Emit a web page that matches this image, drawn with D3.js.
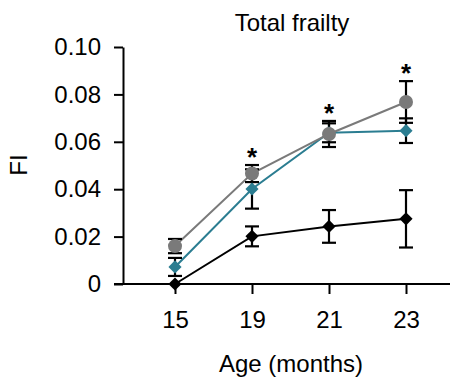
<!DOCTYPE html>
<html>
<head>
<meta charset="utf-8">
<script src="https://cdn.jsdelivr.net/npm/d3@7"></script>
<style>
  html, body { margin: 0; padding: 0; background: #fff; }
  svg { display: block; }
  text { font-family: "Liberation Sans", Arial, Helvetica, sans-serif; fill: #000; }
</style>
</head>
<body>
<svg id="chart" width="452" height="379"></svg>
<script>
// Age groups (months)
const ages = ["15", "19", "21", "23"];

// Frailty index, mean and SEM per group
const blackMean = [0, 0.0201, 0.0243, 0.0275];
const blackSem  = [0, 0.0042, 0.0069, 0.0121];

const tealMean  = [0.0072, 0.0401, 0.0638, 0.0647];
const tealSem   = [0.0038, 0.0083, 0.0040, 0.0052];

const grayMean  = [0.0160, 0.0466, 0.0633, 0.0768];
const graySem   = [0.0030, 0.0036, 0.0055, 0.0088];

// Ages marked as significant
const starred = ["19", "21", "23"];

const yTicks = [0, 0.02, 0.04, 0.06, 0.08, 0.10];
const yTickLabels = ["0", "0.02", "0.04", "0.06", "0.08", "0.10"];

const svg = d3.select("#chart");

const x = d3.scalePoint().domain(ages).range([175, 406]);
const y = d3.scaleLinear().domain([0, 0.10]).range([284, 47]);

const fontSize = 24;

// Title
svg.append("text")
  .attr("x", 292).attr("y", 31)
  .attr("text-anchor", "middle")
  .style("font-size", fontSize + "px")
  .text("Total frailty");

// Y axis
const yAxis = svg.append("g")
  .attr("transform", "translate(123,0)")
  .call(d3.axisLeft(y)
    .tickValues(yTicks)
    .tickFormat((d, i) => yTickLabels[i])
    .tickSize(9)
    .tickSizeOuter(0)
    .tickPadding(13));
yAxis.select(".domain").attr("stroke", "#000").attr("stroke-width", 2);
yAxis.selectAll(".tick line").attr("stroke", "#000").attr("stroke-width", 2);
yAxis.selectAll(".tick text")
  .style("font-size", fontSize + "px")
  .style("font-family", "'Liberation Sans', Arial, sans-serif")
  .attr("fill", "#000");

// X axis
const xAxis = svg.append("g")
  .attr("transform", "translate(0,284)")
  .call(d3.axisBottom(x)
    .tickSize(10)
    .tickSizeOuter(0)
    .tickPadding(17));
xAxis.select(".domain").remove();
xAxis.append("line")
  .attr("x1", 114).attr("x2", 450)
  .attr("y1", 0).attr("y2", 0)
  .attr("stroke", "#000").attr("stroke-width", 2);
xAxis.selectAll(".tick line").attr("stroke", "#000").attr("stroke-width", 2);
xAxis.selectAll(".tick text")
  .style("font-size", fontSize + "px")
  .style("font-family", "'Liberation Sans', Arial, sans-serif")
  .attr("fill", "#000");

// Axis titles
svg.append("text")
  .attr("x", 291).attr("y", 372)
  .attr("text-anchor", "middle")
  .style("font-size", fontSize + "px")
  .text("Age (months)");

svg.append("text")
  .attr("transform", "translate(27,165) rotate(-90)")
  .attr("text-anchor", "middle")
  .style("font-size", fontSize + "px")
  .text("FI");

// Series
const series = [
  { mean: blackMean, sem: blackSem, color: "#000000", marker: "diamond" },
  { mean: tealMean,  sem: tealSem,  color: "#2b7d91", marker: "diamond" },
  { mean: grayMean,  sem: graySem,  color: "#7a7a7a", marker: "circle" }
];

const line = d3.line()
  .x((d, i) => x(ages[i]))
  .y(d => y(d));

const plot = svg.append("g");

series.forEach(s => {
  plot.append("path")
    .datum(s.mean)
    .attr("fill", "none")
    .attr("stroke", s.color)
    .attr("stroke-width", 2)
    .attr("d", line);
});

// Error bars (black whiskers with caps)
const capHalf = 7;
series.forEach(s => {
  const g = plot.append("g");
  s.mean.forEach((m, i) => {
    if (s.sem[i] <= 0) return;
    const cx = x(ages[i]);
    const top = y(m + s.sem[i]);
    const bot = y(m - s.sem[i]);
    g.append("line")
      .attr("x1", cx).attr("x2", cx)
      .attr("y1", top).attr("y2", bot)
      .attr("stroke", "#000").attr("stroke-width", 2.2);
    [top, bot].forEach(yy => {
      g.append("line")
        .attr("x1", cx - capHalf).attr("x2", cx + capHalf)
        .attr("y1", yy).attr("y2", yy)
        .attr("stroke", "#000").attr("stroke-width", 2.2);
    });
  });
});

// Markers
const diamond = d3.symbol().type(d3.symbolDiamond2).size(110);
series.forEach(s => {
  const g = plot.append("g");
  s.mean.forEach((m, i) => {
    const cx = x(ages[i]);
    const cy = y(m);
    if (s.marker === "circle") {
      g.append("circle")
        .attr("cx", cx).attr("cy", cy).attr("r", 7)
        .attr("fill", s.color);
    } else {
      g.append("path")
        .attr("d", diamond())
        .attr("transform", `translate(${cx},${cy})`)
        .attr("fill", s.color);
    }
  });
});

// Significance stars above the highest whisker
starred.forEach(a => {
  const i = ages.indexOf(a);
  const topVal = d3.max(series, s => s.mean[i] + s.sem[i]);
  svg.append("text")
    .attr("x", x(a))
    .attr("y", y(topVal) + 1)
    .attr("text-anchor", "middle")
    .style("font-size", "26px")
    .style("font-weight", "bold")
    .text("*");
});
</script>
</body>
</html>
